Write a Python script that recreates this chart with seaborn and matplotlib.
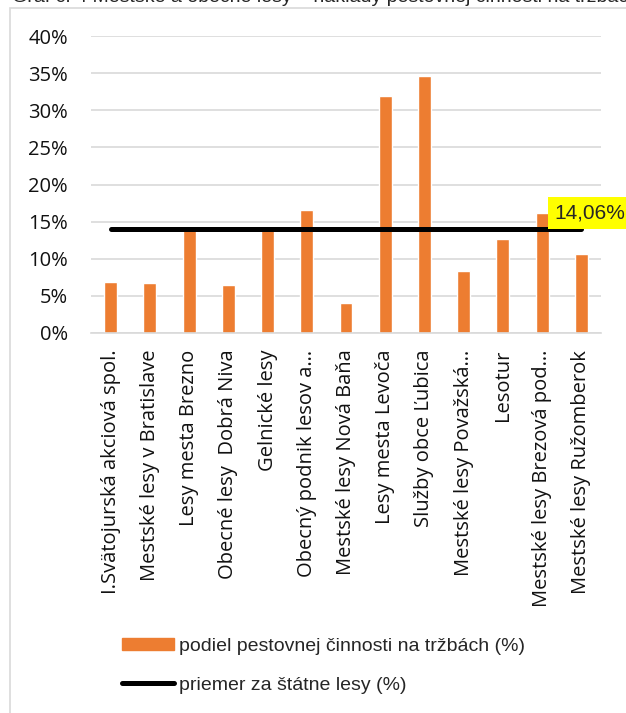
import numpy as np
import pandas as pd
import matplotlib.pyplot as plt
import seaborn as sns
from matplotlib.patches import Rectangle, Patch
from matplotlib.lines import Line2D

# podiel pestovnej cinnosti na trzbach (%) podla podniku
podniky = ["I.Svätojurská akciová spol.", "Mestské lesy v Bratislave", "Lesy mesta Brezno",
           "Obecné lesy  Dobrá Niva", "Gelnické lesy", "Obecný podnik lesov a…",
           "Mestské lesy Nová Baňa", "Lesy mesta Levoča", "Služby obce Ľubica",
           "Mestské lesy Považská…", "Lesotur", "Mestské lesy Brezová pod…",
           "Mestské lesy Ružomberok"]
podiel = [6.9, 6.8, 13.9, 6.4, 13.9, 16.5, 4.1, 31.9, 34.6, 8.4, 12.7, 16.1, 10.6]
priemer = 14.06
y_ticks = [0, 5, 10, 15, 20, 25, 30, 35, 40]
y_labels = ["0%", "5%", "10%", "15%", "20%", "25%", "30%", "35%", "40%"]

nazov = "Graf č. 4 Mestské a obecné lesy – náklady pestovnej činnosti na tržbách"
leg_bar = "podiel pestovnej činnosti na tržbách (%)"
leg_line = "priemer za štátne lesy (%)"

sns.set_style("white")
plt.rcParams['font.family'] = ['Open Sans', 'DejaVu Sans']
arial = ["Liberation Sans", "DejaVu Sans"]

df = pd.DataFrame({"podnik": podniky, "podiel": podiel})

fig = plt.figure(figsize=(6.26, 7.13), dpi=100)
ax = fig.add_axes([91/626, 1-333/713, 510/626, 297/713])

sns.barplot(data=df, x="podnik", y="podiel", color="#ED7D31", saturation=1,
            width=0.33, ax=ax)
n = len(podniky)
sns.lineplot(x=np.arange(n), y=np.full(n, priemer), color="black", lw=3.6,
             solid_capstyle="round", ax=ax, zorder=3)

ax.set_xlim(-0.5, n - 0.5)
ax.set_ylim(0, 40)
ax.set_yticks(y_ticks)
ax.set_yticklabels(y_labels, fontsize=14.5, color="#111111")
ax.set_xticks(np.arange(n))
ax.set_xticklabels(podniky, rotation=90, fontsize=14.5, va="top", ha="center", color="#111111")
ax.tick_params(axis="y", length=0, pad=16.5)
ax.tick_params(axis="x", length=0, pad=12)
ax.set_xlabel("")
ax.set_ylabel("")
ax.grid(axis="y", color="#d9d9d9", lw=1.2)
ax.set_axisbelow(True)
for s in ["left", "right", "top"]:
    ax.spines[s].set_visible(False)
ax.spines["bottom"].set_color("#d9d9d9")
ax.spines["bottom"].set_linewidth(1.2)

ax.annotate("14,06%", xy=(n - 1, priemer), xytext=(-27, 6), textcoords="offset pixels",
            ha="left", va="bottom", fontsize=15, family=arial,
            bbox=dict(boxstyle="square,pad=0.3", fc="#ffff00", ec="none"), zorder=5)

# ramik grafu
fig.add_artist(Rectangle((10/626, -0.1), 1.0, 1.1 - 8/713, transform=fig.transFigure,
                         fill=False, edgecolor="#d9d9d9", lw=1.2))
fig.text(12/626, 1 - 2/713, nazov, fontsize=14, va="baseline", family=arial)

handles = [Patch(color="#ED7D31"),
           Line2D([0], [0], color="black", lw=3.6, solid_capstyle="round")]
fig.legend(handles, [leg_bar, leg_line], loc="upper left",
           bbox_to_anchor=(104/626, 1 - 620/713), frameon=False,
           prop={"family": arial, "size": 14},
           handlelength=2.7, handleheight=0.6, handletextpad=0.25, labelspacing=1.15)

fig.savefig("out.png", dpi=100)
